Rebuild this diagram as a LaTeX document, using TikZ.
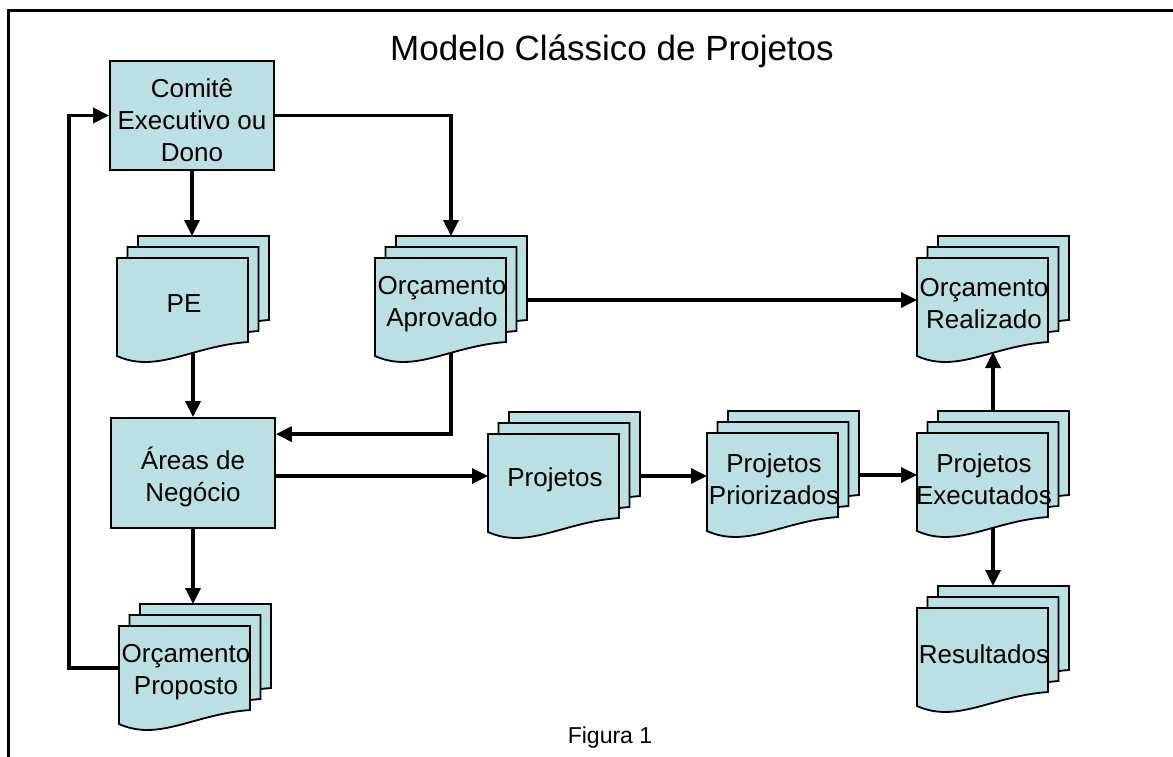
\documentclass[tikz,border=0pt]{standalone}
\usepackage{fontspec}
\setmainfont{Liberation Sans}
\usetikzlibrary{arrows.meta,calc}
\definecolor{docfill}{RGB}{187,224,227}
\pgfdeclarelayer{paper}
\pgfdeclarelayer{bg}
\pgfsetlayers{paper,bg,main}

% one sheet of a stacked document, top-left corner at (#1,#2)
\newcommand\onesheet[2]{%
  \draw[sheet,shift={(#1,#2)}] (0,0) -- (131,0) -- (131,84)
    .. controls (75,88) and (40,116) .. (0,98) -- cycle;}

% stacked documents: name, front sheet top-left x, y, label
\newcommand\mdoc[4]{%
  \onesheet{#2+21}{#3-22}
  \onesheet{#2+10.5}{#3-11}
  \onesheet{#2}{#3}
  \node[doctext] (#1-t) at (#2+67,#3+46) {#4};
  \node[inner sep=0pt,outer sep=0pt,minimum width=152pt,minimum height=128pt]
    (#1) at (#2+76,#3+42) {};
  \coordinate (#1-b) at (#2+76,#3+94);}

\tikzset{
  sheet/.style={draw=black,line width=1.8pt,fill=docfill,line join=miter},
  doctext/.style={align=center,font=\fontsize{26}{32}\selectfont,inner sep=0pt},
  box/.style={draw=black,line width=1.8pt,fill=docfill,inner sep=0pt,
    minimum width=164pt},
  link/.style={line width=3.4pt,-{Triangle[length=16pt,width=15pt]}},
}

\begin{document}
\begin{tikzpicture}[x=1pt,y=-1pt]
\useasboundingbox (0,0) rectangle (1173,756);
\begin{pgfonlayer}{paper}
  \fill[white] (0,0) rectangle (1173,756);
\end{pgfonlayer}

% frame
\draw[line width=3pt] (1180,10) -- (8,10) -- (8,760);

\node[anchor=base,font=\fontsize{35}{40}\selectfont] (title) at (612,60)
  {Modelo Clássico de Projetos};
\node[anchor=base,font=\fontsize{23}{27}\selectfont] (fig) at (610,743)
  {Figura 1};

% process boxes
\node[box,minimum height=109pt] (com) at (192,115.5) {};
\node[doctext] (com-t) at (192,120) {Comitê\\Executivo ou\\Dono};
\node[box,minimum height=110pt] (are) at (193,473) {};
\node[doctext] (are-t) at (193,477) {Áreas de\\Negócio};

% stacked documents
\mdoc{pe}{117}{258}{PE}
\mdoc{apr}{375}{258}{Orçamento\\Aprovado}
\mdoc{prp}{119}{626}{Orçamento\\Proposto}
\mdoc{pro}{488}{434}{Projetos}
\mdoc{pri}{707}{433}{Projetos\\Priorizados}
\mdoc{exe}{917}{433}{Projetos\\Executados}
\mdoc{rea}{917}{258}{Orçamento\\Realizado}
\mdoc{res}{917}{608}{Resultados}

% connectors leaving from under a document stack
\begin{pgfonlayer}{bg}
  \draw[link] (pe.center) -- (pe.center |- are.north);
  \draw[link] (apr.center) |- ($(are.north east)+(0,17)$);
  \draw[link] (exe.center) -- (exe.center |- res.north);
\end{pgfonlayer}

% remaining connectors
\draw[link] (com.south) -- (com.south |- pe.north);
\draw[link] (com.east) -| (apr.north);
\draw[link] (apr.east) -- (rea.west);
\draw[link] (are.east |- pro.west) -- (pro.west);
\draw[link] (pro.east) -- (pri.west |- pro.east);
\draw[link] (pri.east) -- (exe.west);
\draw[link] (exe.north) -- (rea-b);
\draw[link] (are.south) -- (are.south |- prp.north);
\draw[link] (prp.west) -- ++(-50,0) |- (com.west);
\end{tikzpicture}
\end{document}
